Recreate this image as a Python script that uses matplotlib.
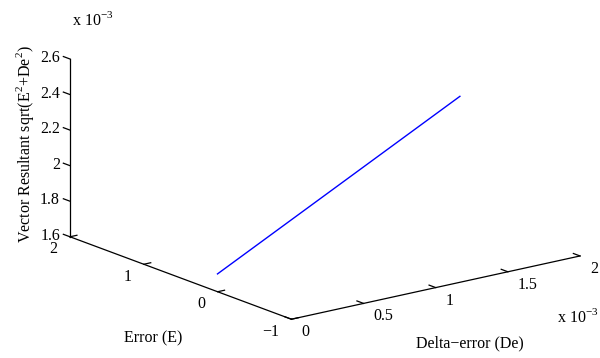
import numpy as np
import matplotlib
matplotlib.use('Agg')
import matplotlib.pyplot as plt
from mpl_toolkits.mplot3d import proj3d

plt.rcParams['font.family'] = ['Liberation Serif', 'DejaVu Serif']
plt.rcParams['mathtext.fontset'] = 'custom'
plt.rcParams['mathtext.rm'] = 'Liberation Serif'
plt.rcParams['font.size'] = 11.5

# trajectory of the controller inputs
delta_error = [0.0, 1.68e-3]
error = [1.7e-3, 1.7e-3]
resultant = [1.70e-3, 2.40e-3]

de_ticks = [0.0, 0.5e-3, 1.0e-3, 1.5e-3, 2.0e-3]
e_ticks = [-1, 0, 1, 2]
r_ticks = [1.6e-3, 1.8e-3, 2.0e-3, 2.2e-3, 2.4e-3, 2.6e-3]

de_lim = (de_ticks[0], de_ticks[-1])
e_lim = (e_ticks[0], e_ticks[-1])
r_lim = (r_ticks[0], r_ticks[-1])

W, H = 600, 358
fig = plt.figure(figsize=(W / 100, H / 100), dpi=100)
ax = fig.add_axes([0, 0, 1, 1], projection='3d')
ax.set_proj_type('ortho')
ax.view_init(elev=16.6, azim=-127.5)
ax.set_box_aspect((1, 1, 0.51))
ax.set_xlim(*de_lim)
ax.set_ylim(*e_lim)
ax.set_zlim(*r_lim)
ax.set_axis_off()

ax.plot(delta_error, error, resultant, color='blue', lw=1.0)

# axis lines, matlab style: only three edges of the box
k = dict(color='black', lw=0.9)
ax.plot([de_lim[0], de_lim[0]], [e_lim[1], e_lim[1]], list(r_lim), **k)
ax.plot([de_lim[0], de_lim[0]], list(e_lim), [r_lim[0], r_lim[0]], **k)
ax.plot(list(de_lim), [e_lim[0], e_lim[0]], [r_lim[0], r_lim[0]], **k)

# tick marks
for r in r_ticks:
    ax.plot([0, 0], [e_lim[1], e_lim[1] + 0.09], [r, r], **k)
for e in e_ticks:
    ax.plot([0, 0.048e-3], [e, e], [r_lim[0], r_lim[0]], **k)
for d in de_ticks:
    ax.plot([d, d], [e_lim[0], e_lim[0] + 0.09], [r_lim[0], r_lim[0]], **k)

fig.canvas.draw()


def to_px(x, y, z):
    xs, ys, _ = proj3d.proj_transform(x, y, z, ax.get_proj())
    return np.array(ax.transData.transform((xs, ys)))


# place the box: top of z axis and far end of the De axis
a = to_px(de_lim[0], e_lim[1], r_lim[1])
b = to_px(de_lim[1], e_lim[0], r_lim[0])
ta = np.array([70.0, H - 59.0])
tb = np.array([580.0, H - 256.0])
s = np.linalg.norm(tb - ta) / np.linalg.norm(b - a)
pos = ax.get_position()
side = pos.width * W
c = np.array([(pos.x0 + pos.width / 2) * W, (pos.y0 + pos.height / 2) * H])
nc = ta - s * (a - c)
nside = side * s
ax.set_position([(nc[0] - nside / 2) / W, (nc[1] - nside / 2) / H, nside / W, nside / H])
fig.canvas.draw()


def label(x, y, z, dx, dy, txt, **kw):
    p = to_px(x, y, z)
    fig.text((p[0] + dx) / W, (p[1] + dy) / H, txt, **kw)


# tick labels
for r in r_ticks:
    label(0, e_lim[1], r, -10, 1, '%g' % (r * 1e3), ha='right', va='center')
for e in e_ticks:
    label(0, e, r_lim[0], -12.5, -12.5, ('%g' % e).replace('-', '\u2212'),
          ha='right', va='center')
for d in de_ticks:
    label(d, e_lim[0], r_lim[0], 10, -13, '%g' % (d * 1e3), ha='left', va='center')

# exponent labels
label(0, e_lim[1], r_lim[1], 2, 39, r'x 10$^{-3}$', ha='left', va='center')
label(de_lim[1], e_lim[0], r_lim[0], -23, -61, r'x 10$^{-3}$', ha='left', va='center')

# axis labels
label(0, 0.5, r_lim[0], -28, -60.5, 'Error (E)', ha='center', va='center')
label(1.0e-3, e_lim[0], r_lim[0], 34, -56, 'Delta\u2212error (De)', ha='center', va='center')
label(0, e_lim[1], 2.1e-3, -45, 4, r'Vector Resultant sqrt(E$^{2}$+De$^{2}$)',
      ha='center', va='center', rotation=90)

fig.savefig('out.png', dpi=100)
